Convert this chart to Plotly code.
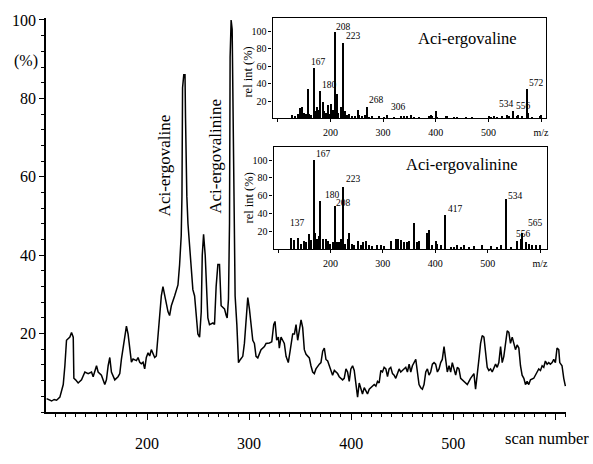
import plotly.graph_objects as go

# ---- main chromatogram (scan number vs %) ----
scan = [101.6, 104, 106.5, 109, 111.4, 114.6, 117.9, 119.5, 121.1, 124.4, 126.0, 127.7, 128.3, 130, 132.5,
        135.8, 139.1, 142.3, 145.6, 147.2, 148.8, 150.5, 152.1, 155.3, 158.6, 160.2, 161.9, 163.5, 165.1,
        168.4, 171.6, 173.3, 174.9, 176.5, 178.1, 179.8, 181.4, 183.0, 184.7, 186.3, 189.6, 191.2, 192.8,
        194.4, 196.1, 197.7, 199.3, 201.0, 202.6, 204.2, 205.8, 207.5, 209.1, 210.7, 212.4, 214.0, 215.6,
        217.2, 218.9, 220.5, 222.1, 223.8, 227.0, 230.3, 231.9, 233.5, 234.2, 234.8, 236.0, 237.2, 237.7,
        238.4, 239.0, 240.1, 241.7, 243.3, 244.9, 246.6, 248.2, 249.8, 251.5, 253.1, 254.1, 255.4, 257.0,
        258.6, 259.6, 261.2, 264.5, 266.1, 267.7, 269.4, 271.0, 272.6, 274.3, 275.9, 277.5, 278.5, 279.8,
        280.8, 281.4, 282.4, 283.4, 284.7, 285.6, 286.3, 288.0, 288.9, 289.6, 291.5, 293.8, 295.4, 297.1,
        298.7, 300.3, 301.9, 303.6, 305.2, 306.8, 308.5, 310.1, 311.7, 315.0, 316.6, 319.9, 322.2, 324.1,
        325.4, 327.0, 328.7, 329.6, 331.3, 332.9, 334.5, 336.2, 338.4, 340.4, 342.7, 344.4, 346.0, 347.6,
        349.2, 350.9, 352.5, 354.1, 355.8, 357.4, 359.0, 360.6, 362.3, 363.9, 365.5, 368.8, 370.4, 372.1,
        373.7, 375.3, 377.0, 378.6, 380.2, 381.8, 383.5, 386.7, 388.3, 390.0, 391.6, 393.2, 394.9, 396.5,
        398.1, 399.7, 401.4, 403.0, 404.6, 406.3, 407.9, 409.5, 411.1, 412.8, 414.4, 416.0, 417.7, 419.3,
        422.6, 424.2, 425.8, 427.4, 429.1, 430.7, 432.3, 434.0, 435.6, 437.2, 438.8, 440.5, 442.1, 443.7,
        445.4, 447.0, 448.6, 450.2, 451.9, 453.5, 455.1, 456.8, 458.4, 460.0, 463.3, 464.9, 466.5, 468.2,
        469.8, 471.4, 473.1, 474.7, 476.3, 477.9, 479.6, 481.2, 482.8, 484.5, 486.1, 487.7, 489.3, 491.0,
        492.6, 494.2, 495.9, 497.5, 499.1, 500.7, 502.4, 504.0, 505.6, 507.3, 508.9, 510.5, 512.1, 513.8,
        517.0, 518.7, 520.3, 521.9, 522.9, 524.2, 525.5, 526.8, 528.4, 530.1, 531.7, 533.3, 534.9, 536.6,
        538.2, 539.8, 541.5, 543.1, 544.7, 546.4, 548.0, 549.6, 551.2, 552.9, 554.5, 556.1, 557.8, 559.4,
        561.0, 562.6, 564.3, 565.9, 567.5, 569.2, 570.8, 572.4, 574.0, 575.7, 578.9, 582.2, 583.8, 585.5,
        587.1, 588.7, 590.3, 592.0, 593.6, 595.2, 596.9, 598.5, 600.1, 601.7, 603.4, 604.4, 606.6, 608.3,
        609.9]
intensity = [3.4, 3.0, 2.8, 3.2, 3.0, 3.8, 7.0, 11.8, 18.3, 19.1, 20.3, 19.1, 8.6, 8.2, 7.4,
             8.2, 10.2, 9.8, 10.2, 9.0, 10.6, 11.8, 10.2, 9.4, 7.0, 8.2, 11.8, 13.9, 10.2,
             8.2, 9.0, 9.8, 13.5, 16.7, 19.1, 21.9, 19.9, 16.7, 12.7, 13.5, 13.1, 13.9, 12.7,
             12.3, 12.7, 11.0, 13.9, 15.1, 14.3, 15.9, 15.1, 13.9, 14.3, 19.1, 25.0, 29.6, 32.0,
             29.6, 27.2, 25.6, 24.6, 27.1, 29.6, 32.4, 37.6, 45.0, 55.0, 82.7, 86.0, 86.0, 75.0,
             62.0, 55.0, 48.0, 41.7, 35.2, 31.2, 29.6, 24.0, 19.9, 19.1, 25.5, 40.0, 45.3, 40.0,
             32.0, 24.0, 22.3, 22.7, 22.3, 32.0, 37.6, 37.6, 27.1, 26.7, 26.3, 24.7, 24.0, 28.8,
             48.0, 90.5, 100.0, 97.6, 69.9, 48.0, 29.6, 22.3, 15.9, 12.6, 13.4, 14.2, 17.5, 23.9,
             29.2, 26.3, 21.5, 18.3, 17.5, 14.2, 13.8, 15.1, 15.9, 16.7, 17.5, 17.6, 17.9, 22.3,
             23.1, 18.3, 19.1, 16.3, 19.1, 18.3, 17.5, 14.2, 12.6, 15.9, 19.9, 19.9, 22.3, 18.3,
             20.7, 23.5, 21.5, 15.9, 14.7, 14.2, 13.8, 11.8, 10.2, 9.8, 11.0, 12.2, 12.6, 15.5,
             16.3, 13.4, 13.0, 11.8, 10.6, 9.4, 10.6, 9.8, 9.0, 8.6, 8.2, 8.6, 11.0, 10.2,
             7.8, 11.0, 11.8, 10.6, 7.0, 3.8, 7.4, 6.2, 4.6, 6.2, 5.4, 4.6, 5.8, 6.2,
             7.0, 6.6, 7.8, 7.4, 10.6, 10.2, 11.4, 11.0, 9.0, 11.0, 11.4, 9.8, 9.4, 8.6,
             10.2, 11.0, 10.2, 10.6, 11.0, 11.4, 10.2, 12.2, 10.2, 11.8, 13.4, 10.2, 7.0, 6.2,
             5.8, 7.0, 10.2, 11.0, 9.4, 10.2, 12.2, 12.6, 12.2, 10.2, 11.0, 12.6, 13.4, 16.7,
             13.4, 10.2, 11.8, 10.2, 12.6, 11.0, 9.4, 11.4, 11.0, 8.6, 8.2, 7.8, 7.4, 7.0,
             8.6, 9.4, 9.8, 5.8, 7.8, 11.0, 14.2, 17.5, 19.5, 19.1, 15.1, 11.4, 10.6, 11.0,
             10.2, 11.4, 12.2, 11.4, 12.6, 16.7, 12.6, 14.2, 17.5, 20.7, 20.3, 17.5, 19.1, 17.5,
             15.9, 17.1, 16.3, 11.8, 9.4, 8.6, 7.0, 7.8, 7.0, 8.2, 8.6, 10.2, 11.0, 10.6,
             11.8, 11.4, 13.0, 12.2, 12.6, 12.2, 12.6, 13.4, 12.6, 16.3, 15.9, 12.6, 11.8, 8.6,
             6.6]

# ---- inset 1: Aci-ergovaline mass spectrum ----
ms1_mz = [127, 132, 137, 142, 146, 149.5, 152.6, 155.8, 159, 162, 167, 169.7, 173.5, 176, 180, 184.2,
          187.4, 190.6, 193.7, 196.9, 200, 204.5, 208, 210.8, 214, 219, 223, 226.6, 230.4, 234.8, 239.2,
          245.5, 250.6, 253.8, 260, 264.5, 268, 272.7, 279, 291.7, 300, 306, 320, 332.8, 339, 345.4,
          351.7, 358, 367.5, 386.5, 389.6, 392.8, 399, 402.3, 418, 421.2, 434, 440.2, 456, 468.6,
          500.3, 503.4, 509.7, 516, 525.5, 534, 538.2, 546.4, 552.7, 556, 563.5, 572, 574.2, 582.4,
          597, 599.5]
ms1_int = [4, 3, 5, 11.6, 13.5, 6, 5, 34, 5, 4.4, 57.8, 8, 13.5, 10, 31, 18.9,
           8, 6, 15.3, 5, 17, 10, 100, 28, 6, 13.5, 86.9, 8, 4, 5, 3,
           3, 9.8, 4, 2.5, 4, 13.5, 2, 2.5, 2.5, 2, 4.4, 2, 2.5, 3, 3,
           3.5, 2, 1.5, 3, 4.4, 2.5, 8, 2, 3, 2.5, 2, 2, 1.5, 1.5,
           2.5, 2, 3, 2, 3, 4.4, 3, 8, 2.5, 4.4, 3, 33.5, 6, 1.5,
           3, 4]
ms1_labels = ["208", "223", "167", "180", "268", "306", "534", "556", "572"]
ms1_label_mz = [225.3, 244.3, 178, 198.8, 287.3, 329.6, 535, 566.6, 592]
ms1_label_int = [105, 94.5, 64.4, 38.9, 20.7, 13.5, 16.4, 14.2, 40.7]

# ---- inset 2: Aci-ergovalinine mass spectrum ----
ms2_mz = [123.8, 130.2, 137, 142.9, 149.2, 152.4, 158.7, 161.9, 167, 169.5, 173.3, 177.8, 180, 184.1,
          190.5, 193.7, 198.7, 203.2, 208, 211.4, 215.9, 219.1, 223, 226.7, 231.8, 234.9, 239.4, 244.5,
          250.8, 257.2, 262.2, 266.7, 273, 279.4, 288.9, 295.2, 301.6, 314.3, 323.8, 328.3, 333.4, 339.7,
          346, 349.2, 358.8, 365.1, 368.3, 384.2, 387.3, 393.7, 400, 403.2, 409.6, 417, 428.6, 435,
          441.3, 447.7, 454, 463.5, 473, 488.9, 504.8, 517.5, 523.9, 534, 542.9, 556, 562, 565,
          571.5, 577.8, 584.2, 590.5, 600]
ms2_int = [13, 11, 13, 6, 9.6, 8.5, 16.7, 11, 100, 18.4, 11.3, 14.9, 53.9, 11.3,
           11.3, 9.6, 6, 7.8, 48.6, 7.8, 7.8, 11.3, 69.9, 6, 11.3, 18.4, 6, 4.3,
           9.6, 4.3, 7.8, 9.6, 4.3, 3.5, 4.3, 5, 3.5, 9.6, 12, 11.3, 10.6, 7.8,
           7.8, 9.6, 29.1, 7.8, 9.6, 18.4, 22, 4.3, 9.6, 6, 4.3, 38.7, 2.5, 2.5,
           4.3, 2.5, 4.3, 2.5, 3.5, 4.3, 3.5, 2.5, 4.3, 56.7, 2.5, 9.6, 11.3, 18.4,
           7.8, 6, 5, 4.3, 5]
ms2_labels = ["167", "223", "180", "208", "137", "417", "534", "556", "565"]
ms2_label_mz = [187.3, 244.5, 203.2, 225.4, 136.5, 438.1, 552.4, 568.3, 591.8]
ms2_label_int = [107, 78.7, 61, 52.1, 29.1, 45, 59.2, 16.7, 29.1]

x_ticks = [200, 300, 400, 500, 600]
x_ticktext = ["200", "300", "400", "500", ""]
y_ticks = [20, 40, 60, 80, 100]
ms_xticks = [100, 200, 300, 400, 500, 600]
ms_xticktext = ["", "200", "300", "400", "500", "m/z"]
ms_yticks = [20, 40, 60, 80, 100]

SERIF = "Liberation Serif"

fig = go.Figure()
fig.add_trace(go.Scatter(x=scan, y=intensity, mode="lines", line=dict(color="black", width=1.5),
                         xaxis="x", yaxis="y", hoverinfo="skip"))
fig.add_trace(go.Bar(x=ms1_mz, y=ms1_int, width=2.0, marker=dict(color="black", line=dict(width=0)),
                     xaxis="x2", yaxis="y2"))
fig.add_trace(go.Bar(x=ms2_mz, y=ms2_int, width=2.0, marker=dict(color="black", line=dict(width=0)),
                     xaxis="x3", yaxis="y3"))

main_font = dict(family=SERIF, size=16, color="black")
small_font = dict(family=SERIF, size=10, color="black")

fig.update_layout(
    width=593, height=464,
    margin=dict(l=45, r=27, t=13, b=35),
    paper_bgcolor="white", plot_bgcolor="white",
    showlegend=False, bargap=0,
    xaxis=dict(domain=[0, 1], range=[101, 610.5], showline=True, linecolor="black", linewidth=1.5,
               ticks="outside", ticklen=6, tickwidth=1.3, tickcolor="black",
               tickmode="array", tickvals=x_ticks, ticktext=x_ticktext,
               minor=dict(tickmode="linear", tick0=100, dtick=10, ticks="outside", ticklen=3,
                          tickwidth=1, tickcolor="black", showgrid=False),
               showgrid=False, zeroline=False, tickfont=main_font, ticklabelstandoff=10),
    yaxis=dict(domain=[0, 1], range=[0, 100.5], showline=True, linecolor="black", linewidth=1.5,
               ticks="outside", ticklen=5, tickwidth=1.3, tickcolor="black",
               tickmode="array", tickvals=y_ticks,
               minor=dict(tickmode="linear", tick0=0, dtick=4, ticks="outside", ticklen=3,
                          tickwidth=1, tickcolor="black", showgrid=False),
               showgrid=False, zeroline=False, tickfont=main_font),
    xaxis2=dict(domain=[0.4357, 0.9616], anchor="y2", range=[90, 609.5], showline=True, mirror=True,
                linecolor="black", linewidth=1.2, ticks="outside", ticklen=3, tickcolor="black",
                tickmode="array", tickvals=ms_xticks, ticktext=ms_xticktext,
                showgrid=False, zeroline=False, tickfont=small_font, ticklabelstandoff=2),
    yaxis2=dict(domain=[0.7452, 1.0], anchor="x2", range=[0, 115.6], showline=True, mirror=True,
                linecolor="black", linewidth=1.2, ticks="outside", ticklen=3, tickcolor="black",
                tickmode="array", tickvals=ms_yticks,
                showgrid=False, zeroline=False, tickfont=small_font),
    xaxis3=dict(domain=[0.4376, 0.9635], anchor="y3", range=[91.4, 613.3], showline=True, mirror=True,
                linecolor="black", linewidth=1.2, ticks="outside", ticklen=3, tickcolor="black",
                tickmode="array", tickvals=ms_xticks, ticktext=ms_xticktext,
                showgrid=False, zeroline=False, tickfont=small_font, ticklabelstandoff=2),
    yaxis3=dict(domain=[0.4135, 0.6731], anchor="x3", range=[0, 115], showline=True, mirror=True,
                linecolor="black", linewidth=1.2, ticks="outside", ticklen=3, tickcolor="black",
                tickmode="array", tickvals=ms_yticks,
                showgrid=False, zeroline=False, tickfont=small_font),
)

ann = []
# main chart labels
ann.append(dict(x=217.2, y=62.8, xref="x", yref="y", text="Aci-ergovaline", textangle=-90,
                showarrow=False, xanchor="center", yanchor="middle",
                font=dict(family=SERIF, size=17, color="black")))
ann.append(dict(x=267.0, y=65.2, xref="x", yref="y", text="Aci-ergovalinine", textangle=-90,
                showarrow=False, xanchor="center", yanchor="middle",
                font=dict(family=SERIF, size=17, color="black")))
ann.append(dict(x=-0.0384, y=0.892, xref="paper", yref="paper", text="(%)", showarrow=False,
                xanchor="center", yanchor="middle", font=main_font))
ann.append(dict(x=1.048, y=-0.0673, xref="paper", yref="paper", text="scan number", showarrow=False,
                xanchor="right", yanchor="middle", font=dict(family=SERIF, size=16.5, color="black")))
# inset axis titles
ann.append(dict(x=0.3877, y=0.863, xref="paper", yref="paper", text="rel int (%)", textangle=-90,
                showarrow=False, xanchor="center", yanchor="middle",
                font=dict(family=SERIF, size=12.5, color="black")))
ann.append(dict(x=0.3896, y=0.5433, xref="paper", yref="paper", text="rel int (%)", textangle=-90,
                showarrow=False, xanchor="center", yanchor="middle",
                font=dict(family=SERIF, size=12.5, color="black")))
# inset titles
ann.append(dict(x=459.7, y=91.9, xref="x2", yref="y2", text="Aci-ergovaline", showarrow=False,
                xanchor="center", yanchor="middle", font=dict(family=SERIF, size=16.5, color="black")))
ann.append(dict(x=451.4, y=94.7, xref="x3", yref="y3", text="Aci-ergovalinine", showarrow=False,
                xanchor="center", yanchor="middle", font=dict(family=SERIF, size=16.5, color="black")))
# peak labels
for t, xm, yv in zip(ms1_labels, ms1_label_mz, ms1_label_int):
    ann.append(dict(x=xm, y=yv, xref="x2", yref="y2", text=t, showarrow=False,
                    xanchor="center", yanchor="middle",
                    font=dict(family=SERIF, size=9.5, color="black")))
for t, xm, yv in zip(ms2_labels, ms2_label_mz, ms2_label_int):
    ann.append(dict(x=xm, y=yv, xref="x3", yref="y3", text=t, showarrow=False,
                    xanchor="center", yanchor="middle",
                    font=dict(family=SERIF, size=9.5, color="black")))
fig.update_layout(annotations=ann)

fig.write_html("out.html")
